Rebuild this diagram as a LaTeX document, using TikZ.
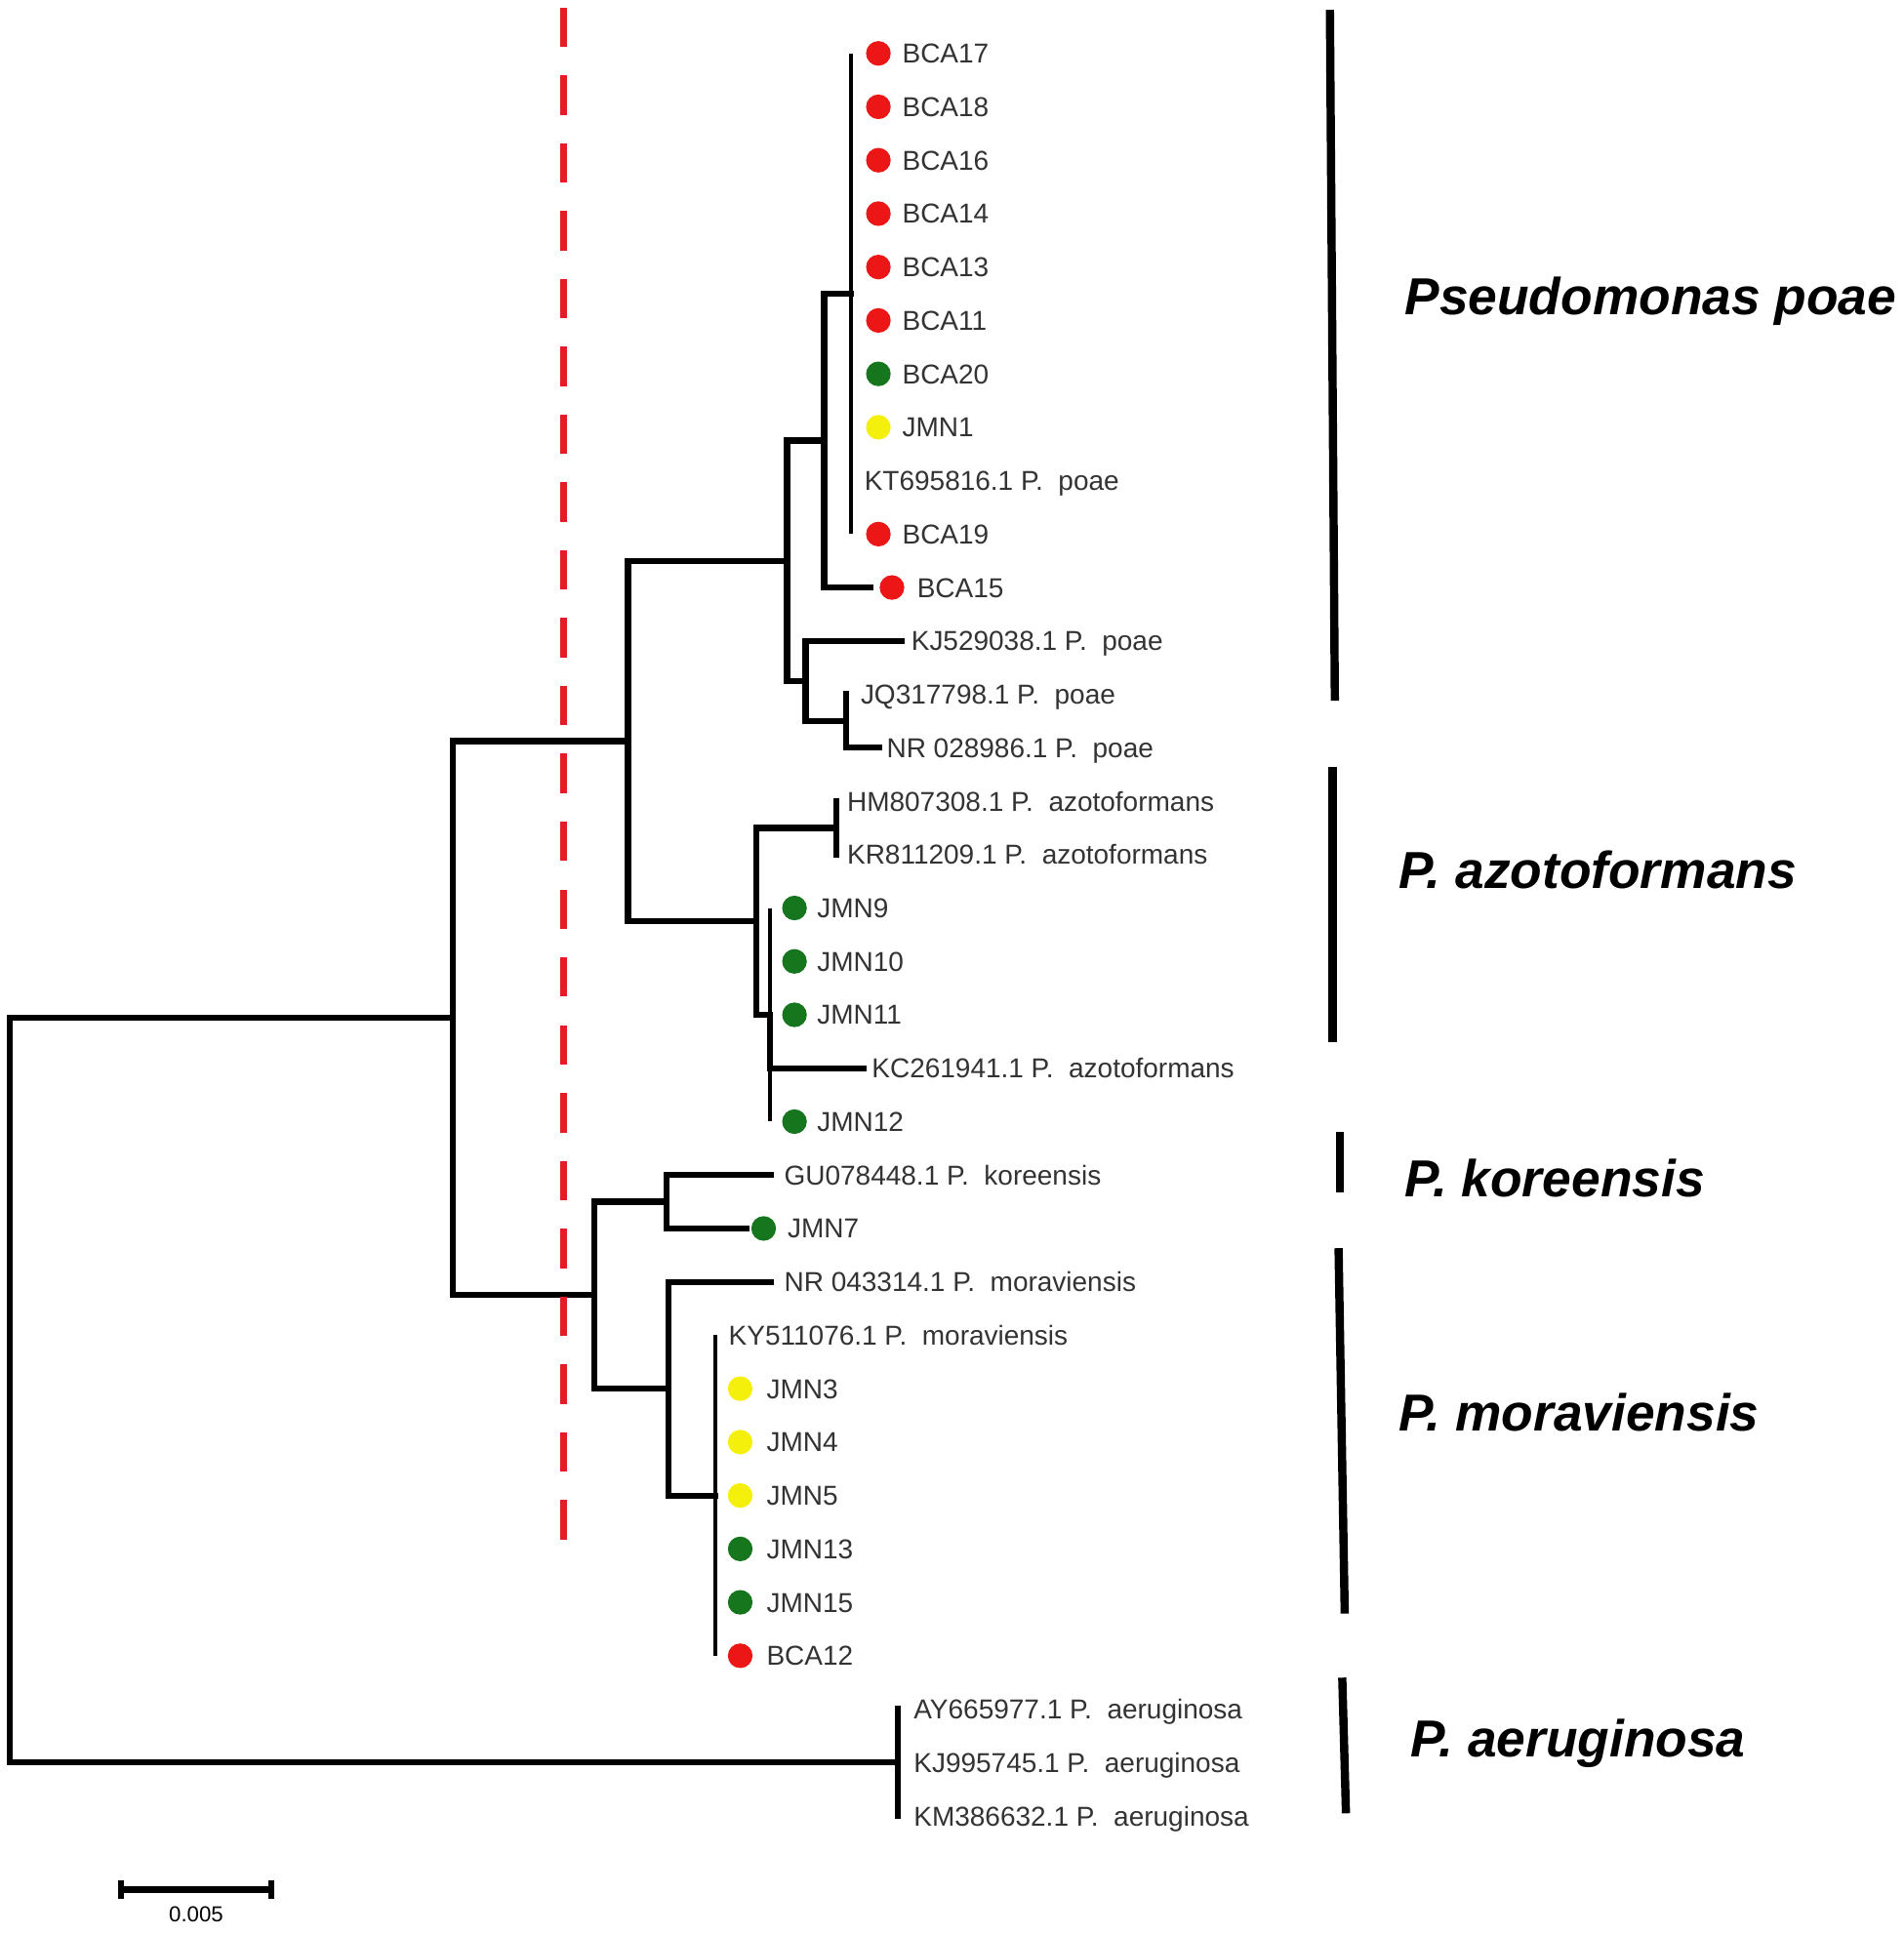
\documentclass[tikz,border=0pt]{standalone}
\usepackage{tikz}
\usepackage{fontspec}
\setsansfont{Liberation Sans}
\usetikzlibrary{positioning}

\definecolor{isored}{RGB}{236,22,22}
\definecolor{isogreen}{RGB}{22,118,30}
\definecolor{isoyellow}{RGB}{244,240,12}
\definecolor{cutred}{RGB}{230,28,36}

\tikzset{
    branch/.style={line width=1.4pt, line cap=rect},
    twig/.style={line width=1pt},
    strain/.style={circle, fill=#1, inner sep=0pt, minimum size=2mm},
    leaf/.style={anchor=west, inner sep=0pt, text height=4.5pt, text depth=0pt,
        font=\sffamily\fontsize{6.3}{7}\selectfont, text=black!80},
    clade/.style={anchor=base west, inner sep=0pt,
        font=\sffamily\bfseries\itshape\fontsize{12}{14}\selectfont},
    cladebar/.style={line width=1.9pt},
    cutoff/.style={cutred, line width=1.7pt, dash pattern=on 3.2mm off 2.3mm}
}

\begin{document}
\begin{tikzpicture}[x=0.1mm, y=-4.33mm]
                \useasboundingbox (0,0) rectangle (1543,36.21);

                % leaves: P. poae
                \node[strain=isored] (bca17dot) at (712,1) {};
                \node[leaf, right=0.8mm of bca17dot] (bca17) {BCA17};
                \node[strain=isored] (bca18dot) at (712,2) {};
                \node[leaf, right=0.8mm of bca18dot] (bca18) {BCA18};
                \node[strain=isored] (bca16dot) at (712,3) {};
                \node[leaf, right=0.8mm of bca16dot] (bca16) {BCA16};
                \node[strain=isored] (bca14dot) at (712,4) {};
                \node[leaf, right=0.8mm of bca14dot] (bca14) {BCA14};
                \node[strain=isored] (bca13dot) at (712,5) {};
                \node[leaf, right=0.8mm of bca13dot] (bca13) {BCA13};
                \node[strain=isored] (bca11dot) at (712,6) {};
                \node[leaf, right=0.8mm of bca11dot] (bca11) {BCA11};
                \node[strain=isogreen] (bca20dot) at (712,7) {};
                \node[leaf, right=0.8mm of bca20dot] (bca20) {BCA20};
                \node[strain=isoyellow] (jmn1dot) at (712,8) {};
                \node[leaf, right=0.8mm of jmn1dot] (jmn1) {JMN1};
                \node[leaf] (kt695816) at (700,9) {KT695816.1 P.~ poae};
                \node[strain=isored] (bca19dot) at (712,10) {};
                \node[leaf, right=0.8mm of bca19dot] (bca19) {BCA19};
                \node[strain=isored] (bca15dot) at (723,11) {};
                \node[leaf, right=0.9mm of bca15dot] (bca15) {BCA15};
                \node[leaf] (kj529038) at (738,12) {KJ529038.1 P.~ poae};
                \node[leaf] (jq317798) at (697,13) {JQ317798.1 P.~ poae};
                \node[leaf] (nr028986) at (718,14) {NR 028986.1 P.~ poae};

                % leaves: P. azotoformans
                \node[leaf] (hm807308) at (686,15) {HM807308.1 P.~ azotoformans};
                \node[leaf] (kr811209) at (686,16) {KR811209.1 P.~ azotoformans};
                \node[strain=isogreen] (jmn9dot) at (644,17) {};
                \node[leaf, right=0.7mm of jmn9dot] (jmn9) {JMN9};
                \node[strain=isogreen] (jmn10dot) at (644,18) {};
                \node[leaf, right=0.7mm of jmn10dot] (jmn10) {JMN10};
                \node[strain=isogreen] (jmn11dot) at (644,19) {};
                \node[leaf, right=0.7mm of jmn11dot] (jmn11) {JMN11};
                \node[leaf] (kc261941) at (706,20) {KC261941.1 P.~ azotoformans};
                \node[strain=isogreen] (jmn12dot) at (644,21) {};
                \node[leaf, right=0.7mm of jmn12dot] (jmn12) {JMN12};

                % leaves: P. koreensis, P. moraviensis
                \node[leaf] (gu078448) at (635,22) {GU078448.1 P.~ koreensis};
                \node[strain=isogreen] (jmn7dot) at (619,23) {};
                \node[leaf, right=0.8mm of jmn7dot] (jmn7) {JMN7};
                \node[leaf] (nr043314) at (635,24) {NR 043314.1 P.~ moraviensis};
                \node[leaf] (ky511076) at (590,25) {KY511076.1 P.~ moraviensis};
                \node[strain=isoyellow] (jmn3dot) at (600,26) {};
                \node[leaf, right=1mm of jmn3dot] (jmn3) {JMN3};
                \node[strain=isoyellow] (jmn4dot) at (600,27) {};
                \node[leaf, right=1mm of jmn4dot] (jmn4) {JMN4};
                \node[strain=isoyellow] (jmn5dot) at (600,28) {};
                \node[leaf, right=1mm of jmn5dot] (jmn5) {JMN5};
                \node[strain=isogreen] (jmn13dot) at (600,29) {};
                \node[leaf, right=1mm of jmn13dot] (jmn13) {JMN13};
                \node[strain=isogreen] (jmn15dot) at (600,30) {};
                \node[leaf, right=1mm of jmn15dot] (jmn15) {JMN15};
                \node[strain=isored] (bca12dot) at (600,31) {};
                \node[leaf, right=1mm of bca12dot] (bca12) {BCA12};

                % leaves: P. aeruginosa
                \node[leaf] (ay665977) at (740,32) {AY665977.1 P.~ aeruginosa};
                \node[leaf] (kj995745) at (740,33) {KJ995745.1 P.~ aeruginosa};
                \node[leaf] (km386632) at (740,34) {KM386632.1 P.~ aeruginosa};

                % internal nodes
                \coordinate (root) at (8,26.03);
                \coordinate (a) at (367,19.06);
                \coordinate (b) at (509,13.875);
                \coordinate (c) at (638,10.5);
                \coordinate (d) at (668,8.25);
                \coordinate (e) at (653,12.75);
                \coordinate (f) at (690,5.5);
                \coordinate (g) at (686,13.5);
                \coordinate (az) at (613,17.25);
                \coordinate (h) at (678,15.5);
                \coordinate (i) at (624,19);
                \coordinate (k) at (482,24.25);
                \coordinate (l) at (540,22.5);
                \coordinate (m) at (542,26);
                \coordinate (n) at (580,28);
                \coordinate (aer) at (728,33);

                % branches
                \draw[branch] (root) |- (a);
                \draw[branch] (root) |- (aer);
                \draw[branch] (a) |- (b);
                \draw[branch] (a) |- (k);
                \draw[branch] (b) |- (c);
                \draw[branch] (b) |- (az);
                \draw[branch] (c) |- (d);
                \draw[branch] (c) |- (e);
                \draw[branch] (d) |- (f);
                \draw[branch, shorten >=0.7mm] (d) |- (bca15dot.west);
                \draw[twig] (f |- bca17dot) -- (f |- bca19dot);
                \draw[branch, shorten >=0.7mm] (e) |- (kj529038.west);
                \draw[branch] (e) |- (g);
                \draw[branch, shorten >=0.5mm] (g |- jq317798.west) |- (nr028986.west);
                \draw[branch] (az) |- (h);
                \draw[branch] (az) |- (i);
                \draw[branch] (h |- hm807308.west) -- (h |- kr811209.west);
                \draw[twig] (i |- jmn9dot) -- (i |- jmn12dot);
                \draw[branch, shorten >=0.6mm] (i) |- (kc261941.west);
                \draw[branch] (k) |- (l);
                \draw[branch] (k) |- (m);
                \draw[branch, shorten >=1mm] (l) |- (gu078448.west);
                \draw[branch, shorten >=0.3mm] (l) |- (jmn7dot.west);
                \draw[branch, shorten >=1mm] (m) |- (nr043314.west);
                \draw[branch] (m) |- (n);
                \draw[twig] (n |- ky511076.west) -- (n |- bca12dot);
                \draw[branch] (aer |- ay665977.west) -- (aer |- km386632.west);

                % cut-off line
                \draw[cutoff] (457,0.14) -- (457,28.87);

                % clades
                \draw[cladebar] (1078,0.185) -- (1082,13.12);
                \draw[cladebar] (1080,14.36) -- (1080,19.52);
                \draw[cladebar] (1086,21.2) -- (1086,22.33);
                \draw[cladebar] (1085,23.37) -- (1090,30.21);
                \draw[cladebar] (1088,31.41) -- (1091,33.95);
                \node[clade] (poae) at (1138,5.89) {Pseudomonas poae};
                \node[clade] (azoto) at (1133,16.63) {P. azotoformans};
                \node[clade] (korea) at (1138,22.4) {P. koreensis};
                \node[clade] (morav) at (1133,26.79) {P. moraviensis};
                \node[clade] (aerug) at (1143,32.89) {P. aeruginosa};

                % scale bar
                \draw[line width=1.4pt] (98,35.38) -- (220,35.38);
                \draw[line width=1.4pt] (98,35.2) -- (98,35.56) (220,35.2) -- (220,35.56);
                \node[font=\sffamily\fontsize{5}{6}\selectfont, inner sep=0pt] (sbar) at (159,35.85) {0.005};
            \end{tikzpicture}
\end{document}
